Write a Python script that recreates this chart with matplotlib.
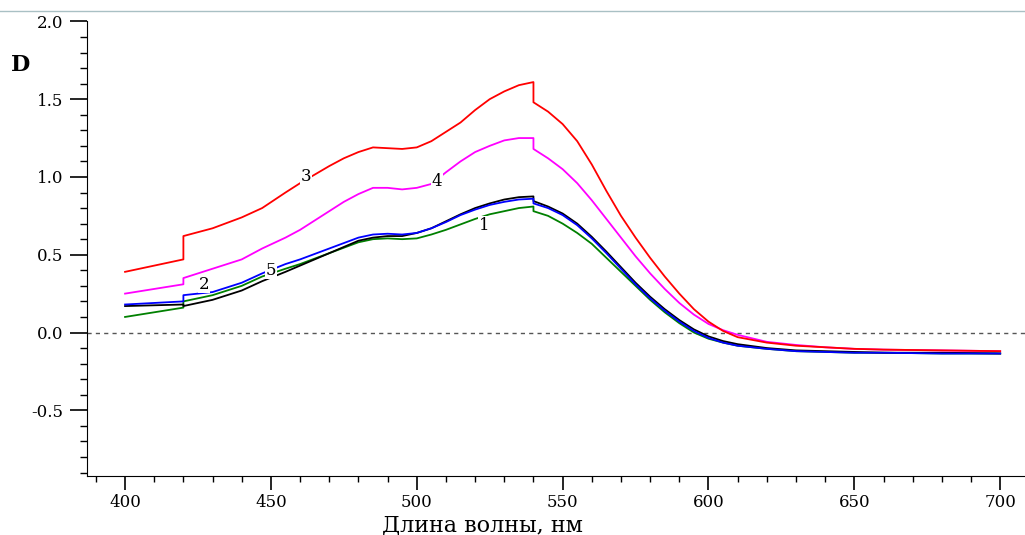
import numpy as np
import matplotlib
matplotlib.use("Agg")
import matplotlib.pyplot as plt
from matplotlib.lines import Line2D
from matplotlib.ticker import MultipleLocator, FormatStrFormatter

plt.rcParams['font.family'] = ['DejaVu Serif']

# wavelengths, nm (420 and 540 repeated: detector steps)
wl = [400, 410, 420, 420, 430, 440, 447, 455, 460, 470, 475, 480, 485, 490, 495, 500,
      505, 510, 515, 520, 525, 530, 535, 540, 540, 545, 550, 555, 560, 565, 570, 575,
      580, 585, 590, 595, 600, 605, 610, 620, 630, 640, 650, 660, 680, 700]

d3 = [0.39, 0.43, 0.47, 0.62, 0.67, 0.74, 0.80, 0.90, 0.96, 1.07, 1.12, 1.16, 1.19, 1.185, 1.18, 1.19,
      1.23, 1.29, 1.35, 1.43, 1.50, 1.55, 1.59, 1.61, 1.48, 1.42, 1.34, 1.23, 1.08, 0.91, 0.75, 0.61,
      0.48, 0.36, 0.25, 0.15, 0.07, 0.01, -0.03, -0.065, -0.085, -0.095, -0.105, -0.11, -0.115, -0.12]

d4 = [0.25, 0.28, 0.31, 0.35, 0.41, 0.47, 0.54, 0.61, 0.66, 0.78, 0.84, 0.89, 0.93, 0.93, 0.92, 0.93,
      0.955, 1.03, 1.10, 1.16, 1.20, 1.235, 1.25, 1.25, 1.18, 1.12, 1.05, 0.96, 0.85, 0.73, 0.61, 0.49,
      0.38, 0.28, 0.19, 0.115, 0.055, 0.015, -0.015, -0.06, -0.08, -0.095, -0.105, -0.11, -0.115, -0.12]

d2 = [0.18, 0.19, 0.20, 0.24, 0.26, 0.32, 0.38, 0.44, 0.47, 0.54, 0.575, 0.61, 0.63, 0.635, 0.63, 0.64,
      0.67, 0.71, 0.755, 0.79, 0.82, 0.84, 0.855, 0.86, 0.83, 0.80, 0.755, 0.69, 0.605, 0.51, 0.41, 0.31,
      0.22, 0.14, 0.07, 0.01, -0.035, -0.065, -0.085, -0.105, -0.12, -0.125, -0.13, -0.13, -0.135, -0.135]

d5 = [0.17, 0.175, 0.18, 0.17, 0.21, 0.27, 0.33, 0.39, 0.43, 0.51, 0.55, 0.59, 0.61, 0.62, 0.62, 0.64,
      0.67, 0.715, 0.76, 0.80, 0.83, 0.855, 0.87, 0.875, 0.845, 0.81, 0.765, 0.70, 0.615, 0.52, 0.42, 0.32,
      0.23, 0.15, 0.08, 0.02, -0.025, -0.055, -0.075, -0.10, -0.115, -0.12, -0.125, -0.13, -0.13, -0.135]

d1 = [0.10, 0.13, 0.16, 0.20, 0.24, 0.30, 0.36, 0.41, 0.44, 0.51, 0.545, 0.58, 0.60, 0.605, 0.60, 0.605,
      0.63, 0.66, 0.695, 0.73, 0.76, 0.78, 0.80, 0.81, 0.78, 0.75, 0.70, 0.64, 0.57, 0.48, 0.39, 0.30,
      0.21, 0.13, 0.06, 0.00, -0.04, -0.065, -0.085, -0.105, -0.12, -0.125, -0.13, -0.13, -0.135, -0.135]

curves = [(d1, 'green'), (d5, 'black'), (d2, 'blue'), (d4, '#ff00ff'), (d3, 'red')]

labels = ['3', '4', '1', '2', '5']
label_x = [462, 507, 523, 427, 450]
label_y = [1.00, 0.97, 0.69, 0.31, 0.40]

fig = plt.figure(figsize=(10.25, 5.35), dpi=100)
ax = fig.add_axes([0.085, 0.111, 0.915, 0.849])

for d, c in curves:
    ax.plot(wl, d, color=c, lw=1.3)

ax.axhline(0, color='#555555', lw=1, ls=(0, (3, 3)), zorder=1)

for t, x, y in zip(labels, label_x, label_y):
    ax.text(x, y, t, fontsize=12, ha='center', va='center', zorder=5,
            bbox=dict(facecolor='white', edgecolor='none', pad=0.5))

ax.set_xlim(387, 708.5)
ax.set_ylim(-0.92, 2.0)
ax.spines['top'].set_visible(False)
ax.spines['right'].set_visible(False)
ax.xaxis.set_major_locator(MultipleLocator(50))
ax.xaxis.set_minor_locator(MultipleLocator(10))
ax.yaxis.set_major_locator(MultipleLocator(0.5))
ax.yaxis.set_minor_locator(MultipleLocator(0.1))
ax.yaxis.set_major_formatter(FormatStrFormatter('%.1f'))
ax.tick_params(axis='y', which='major', length=12, width=1.2, pad=5, labelsize=12)
ax.tick_params(axis='y', which='minor', length=5, width=1)
ax.tick_params(axis='x', which='major', length=10, width=1.2, pad=3, labelsize=12)
ax.tick_params(axis='x', which='minor', length=4, width=1)
ax.set_xlabel('Длина волны, нм', fontsize=16)
ax.xaxis.set_label_coords(0.421, -0.085)

fig.text(0.011, 0.867, 'D', fontsize=16, fontweight='bold')
fig.add_artist(Line2D([0, 1], [0.979, 0.979], color='#a9c0c4', lw=1))

fig.savefig('out.png', dpi=100)
